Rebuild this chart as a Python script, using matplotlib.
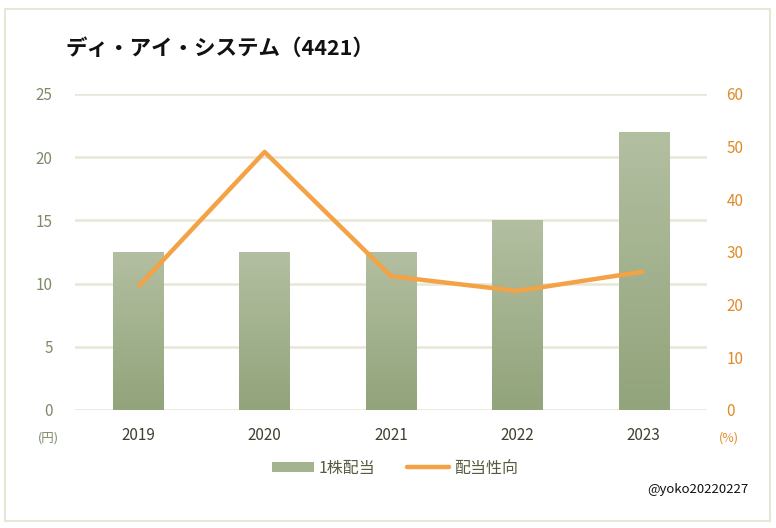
import matplotlib
matplotlib.use("Agg")
import matplotlib.pyplot as plt
import numpy as np
from matplotlib.patches import Rectangle
from matplotlib.lines import Line2D
from matplotlib.colors import LinearSegmentedColormap

plt.rcParams['font.family'] = ['Noto Sans CJK JP', 'DejaVu Sans']

years = ["2019", "2020", "2021", "2022", "2023"]
dividend = [12.5, 12.5, 12.5, 15, 22]
payout = [23.4, 49.0, 25.4, 22.6, 26.3]
left_ticks = [0, 5, 10, 15, 20, 25]
right_ticks = [0, 10, 20, 30, 40, 50, 60]

W, H = 776, 528
fig = plt.figure(figsize=(W/100, H/100), dpi=100)
fig.patch.set_facecolor('white')
fig.add_artist(Rectangle((5/W, 7/H), 765/W, 512/H, transform=fig.transFigure,
                         fill=False, edgecolor='#e6e8d6', lw=1.5))

ax = fig.add_axes([75/W, (528-410)/H, 632/W, 316/H])
x = np.arange(len(years))
ax.set_xlim(-0.5, len(years)-0.5)
ax.set_ylim(0, 25)
ax.set_yticks(left_ticks)
for t in left_ticks:
    ax.axhline(t, color='#e6e8d5', lw=1.8, zorder=0)
for s in ax.spines.values():
    s.set_visible(False)
ax.tick_params(axis='both', length=0)
ax.tick_params(axis='y', colors='#7d8c68', labelsize=11, pad=16)
ax.tick_params(axis='x', colors='#404030', labelsize=11, pad=12)
ax.set_xticks(x)
ax.set_xticklabels(years)

cmap = LinearSegmentedColormap.from_list('g', ['#92a47b', '#b3bfa1'])
grad = np.linspace(0, 1, 256).reshape(-1, 1)
bars = ax.bar(x, dividend, width=0.4, color='#a3b48e', zorder=2)
for b in bars:
    b.set_facecolor('none')
    x0, w, h = b.get_x(), b.get_width(), b.get_height()
    im = ax.imshow(grad, cmap=cmap, aspect='auto', origin='lower',
                   extent=[x0, x0+w, 0, h], zorder=2)
    im.set_clip_path(b)
ax.set_xlim(-0.5, len(years)-0.5)
ax.set_ylim(0, 25)

ax2 = ax.twinx()
ax2.set_ylim(0, 60)
ax2.set_yticks(right_ticks)
for s in ax2.spines.values():
    s.set_visible(False)
ax2.tick_params(axis='y', length=0, colors='#e08a2a', labelsize=11, pad=14)
ax2.plot(x, payout, color='#f3a245', lw=3.2, solid_capstyle='butt', zorder=3)

fig.text(65/W, 1-48/H, "ディ・アイ・システム（4421）", fontsize=15.5, fontweight='bold',
         color='#111111', va='center', ha='left')
fig.text(48/W, 1-438/H, "(円)", fontsize=9, color='#7d8c68', ha='center', va='center')
fig.text(729/W, 1-438/H, "(%)", fontsize=9, color='#e08a2a', ha='center', va='center')
fig.text(748/W, 1-490/H, "@yoko20220227", fontsize=9.5, color='#111111', ha='right', va='center')

handles = [Rectangle((0, 0), 1, 1, facecolor='#a3b48e', edgecolor='none'),
           Line2D([0], [0], color='#f3a245', lw=3.2, solid_capstyle='round')]
leg = fig.legend(handles, ["1株配当", "配当性向"], loc='center', bbox_to_anchor=(395/W, 1-468/H),
                 ncol=2, frameon=False, fontsize=11.5, handlelength=2.6, handleheight=0.6,
                 columnspacing=2.0, handletextpad=0.3)
for t in leg.get_texts():
    t.set_color('#5a5a40')

fig.savefig("out.png", dpi=100)
